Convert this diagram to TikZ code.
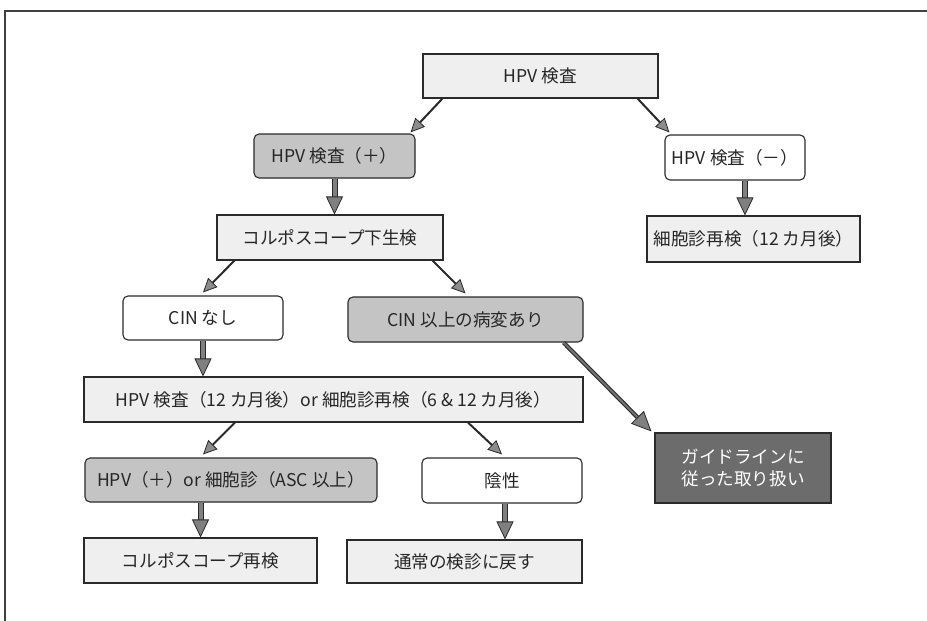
\documentclass[tikz,border=0pt]{standalone}
\usepackage{fontspec}
\newfontfamily\jpfont{Noto Sans CJK JP}
\usetikzlibrary{arrows.meta}
\definecolor{lightfill}{HTML}{EFEFEF}
\definecolor{midfill}{HTML}{C4C4C4}
\definecolor{darkfill}{HTML}{6C6C6C}
\definecolor{edge}{HTML}{2A2A2A}
\tikzset{
  box/.style={draw=edge, line width=1.1pt, inner sep=0pt, align=center,
    font=\jpfont\fontsize{17.6pt}{22pt}\selectfont, text=black!85},
  plainbox/.style={box, fill=lightfill},
  roundwhite/.style={box, fill=white, rounded corners=5pt},
  roundgray/.style={box, fill=midfill, rounded corners=5pt},
  darkbox/.style={box, fill=darkfill, text=white},
  thinarrow/.style={draw=edge, line width=2pt,
    -{Triangle[width=13pt,length=14pt,fill=black!45,line width=0.8pt]}},
  fatarrow/.style={draw=edge, line width=1pt, double=black!50, double distance=4pt,
    -{Triangle[width=17pt,length=18pt,fill=black!50,line width=0.8pt]}},
  guidearrow/.style={draw=edge, line width=1.1pt, double=black!55, double distance=2pt,
    -{Triangle[width=18pt,length=20pt,fill=black!50,line width=0.8pt]}}
}
\begin{document}
\begin{tikzpicture}[x=1pt,y=-1pt]
\useasboundingbox (0,0) rectangle (927,621);
\fill[white] (0,0) rectangle (927,621);
\coordinate (fa) at (927,11);
\coordinate (fb) at (5,11);
\coordinate (fc) at (5,621);
\draw[black!75, line width=1.4pt] (fa) -- (fb) -- (fc);

\node[plainbox, minimum width=235pt, minimum height=44pt] (top) at (540.5,76) {HPV 検査};
\node[roundgray, minimum width=161pt, minimum height=44pt] (pos) at (334.5,156) {HPV 検査（＋）};
\node[roundwhite, minimum width=140pt, minimum height=45pt] (neg) at (735,157.5) {HPV 検査（－）};
\node[plainbox, minimum width=213pt, minimum height=46pt] (cyto) at (753.5,239) {細胞診再検（12 カ月後）};
\node[plainbox, minimum width=226pt, minimum height=45pt] (colpo) at (330,237.5) {コルポスコープ下生検};
\node[roundwhite, minimum width=160pt, minimum height=44pt] (cinno) at (203,318) {CIN なし};
\node[roundgray, minimum width=235pt, minimum height=45pt] (cinyes) at (465.5,319.5) {CIN 以上の病変あり};
\node[plainbox, minimum width=499pt, minimum height=45pt] (follow) at (333.5,399.5) {HPV 検査（12 カ月後）or 細胞診再検（6 \& 12 カ月後）};
\node[darkbox, minimum width=176pt, minimum height=70pt] (guide) at (743,468) {ガイドラインに\\従った取り扱い};
\node[roundgray, minimum width=292pt, minimum height=44pt] (hpvpos) at (231,480) {HPV（＋）or 細胞診（ASC 以上）};
\node[roundwhite, minimum width=160pt, minimum height=45pt] (neg2) at (502,480.5) {陰性};
\node[plainbox, minimum width=233pt, minimum height=45pt] (colpo2) at (200.5,560.5) {コルポスコープ再検};
\node[plainbox, minimum width=235pt, minimum height=43pt] (normal) at (464.5,561.5) {通常の検診に戻す};

\draw[thinarrow] ([xshift=20pt]top.south west) -- ([xshift=-5pt,yshift=1pt]pos.north east);
\draw[thinarrow] ([xshift=-21pt]top.south east) -- ([xshift=5pt,yshift=2pt]neg.north west);
\draw[fatarrow] (pos.south) -- (pos.south |- colpo.north);
\draw[fatarrow] ([xshift=10pt]neg.south) -- ([xshift=10pt]neg.south |- cyto.north);
\draw[thinarrow] ([xshift=18pt]colpo.south west) -- ([yshift=3pt]cinno.north);
\draw[thinarrow] ([xshift=-11pt]colpo.south east) -- ([yshift=3pt]cinyes.north);
\draw[fatarrow] (cinno.south) -- (cinno.south |- follow.north);
\draw[guidearrow] ([xshift=-20pt]cinyes.south east) -- ([xshift=-3pt,yshift=1pt]guide.north west);
\draw[thinarrow] ([xshift=-98.5pt]follow.south) -- ([xshift=-28pt,yshift=3pt]hpvpos.north);
\draw[thinarrow] ([xshift=134.5pt]follow.south) -- ([yshift=3pt]neg2.north);
\draw[fatarrow] (colpo2.north |- hpvpos.south) -- (colpo2.north);
\draw[fatarrow] ([xshift=3pt]neg2.south) -- ([xshift=3pt]neg2.south |- normal.north);
\end{tikzpicture}
\end{document}
